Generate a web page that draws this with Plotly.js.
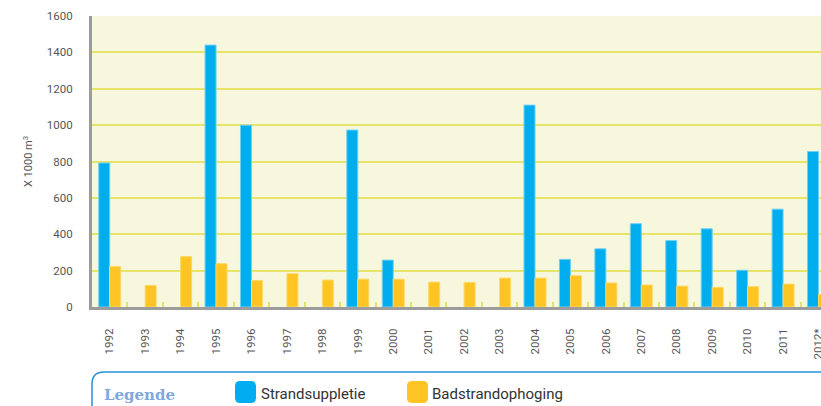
<!DOCTYPE html>
<html>
<head>
<meta charset="utf-8">
<script src="https://cdn.plot.ly/plotly-3.0.1.min.js"></script>
<style>
html,body{margin:0;padding:0;background:#fff;}
#chart{width:821px;height:406px;}
</style>
</head>
<body>
<div id="chart"></div>
<script>
const years = ["1992","1993","1994","1995","1996","1997","1998","1999","2000","2001","2002","2003","2004","2005","2006","2007","2008","2009","2010","2011","2012*"];
const strandsuppletie = [792, null, null, 1440, 1000, null, null, 973, 258, null, null, null, 1110, 262, 320, 458, 365, 430, 202, 538, 855];
const badstrandophoging = [222, 119, 277, 238, 146, 183, 148, 153, 153, 137, 135, 159, 159, 172, 132, 121, 115, 108, 112, 126, 68];
const seriesNames = ["Strandsuppletie", "Badstrandophoging"];
const yTicks = [0, 200, 400, 600, 800, 1000, 1200, 1400, 1600];

const W = 821, H = 406;
const M = {l: 92, r: 0, t: 16, b: 99};
const pw = W - M.l - M.r, ph = H - M.t - M.b;
const px = x => (x - M.l) / pw;
const py = y => (H - M.b - y) / ph;

const blue = "#00aeef", orange = "#fdc424";

const traces = [
  {type: "bar", x: years, y: strandsuppletie, name: seriesNames[0],
   marker: {color: blue, line: {color: "#6fd0f3", width: 1}}, hoverinfo: "x+y"},
  {type: "bar", x: years, y: badstrandophoging, name: seriesNames[1],
   marker: {color: orange, line: {color: "#fed866", width: 1}}, hoverinfo: "x+y"}
];

function rr(x0, y0, x1, y1, r) {
  const P = (x, y) => px(x).toFixed(5) + "," + py(y).toFixed(5);
  return "M" + P(x0 + r, y0) + " L" + P(x1 - r, y0) + " Q" + P(x1, y0) + " " + P(x1, y0 + r) +
    " L" + P(x1, y1 - r) + " Q" + P(x1, y1) + " " + P(x1 - r, y1) +
    " L" + P(x0 + r, y1) + " Q" + P(x0, y1) + " " + P(x0, y1 - r) +
    " L" + P(x0, y0 + r) + " Q" + P(x0, y0) + " " + P(x0 + r, y0) + " Z";
}

const shapes = [
  {type: "path", xref: "paper", yref: "paper", path: rr(92, 372, 860, 440, 12),
   line: {color: "#2b8fd3", width: 1.5}, fillcolor: "rgba(0,0,0,0)"},
  {type: "path", xref: "paper", yref: "paper", path: rr(235, 381, 256, 403, 5),
   line: {width: 0}, fillcolor: blue},
  {type: "path", xref: "paper", yref: "paper", path: rr(407, 381, 428, 403, 5),
   line: {width: 0}, fillcolor: orange}
];

const annotations = [
  {xref: "paper", yref: "paper", x: px(102), y: py(395), xanchor: "left", yanchor: "middle",
   text: "<b>Legende</b>", showarrow: false,
   font: {family: "DejaVu Serif, Liberation Serif, serif", size: 15, color: "#7fa8dc"}},
  {xref: "paper", yref: "paper", x: px(259), y: py(394), xanchor: "left", yanchor: "middle",
   text: seriesNames[0], showarrow: false,
   font: {family: "Roboto, DejaVu Sans, sans-serif", size: 15, color: "#333"}},
  {xref: "paper", yref: "paper", x: px(430), y: py(394), xanchor: "left", yanchor: "middle",
   text: seriesNames[1], showarrow: false,
   font: {family: "Roboto, DejaVu Sans, sans-serif", size: 15, color: "#333"}}
];

const layout = {
  width: W, height: H,
  margin: M,
  paper_bgcolor: "#ffffff",
  plot_bgcolor: "#f6f7dc",
  showlegend: false,
  barmode: "group",
  bargap: 0.38,
  bargroupgap: 0,
  font: {family: "Roboto, DejaVu Sans, sans-serif", color: "#555"},
  xaxis: {
    type: "category",
    range: [-0.5, -0.5 + pw / 35.44],
    tickangle: -90,
    tickson: "boundaries",
    ticks: "inside", ticklen: 5, tickwidth: 2, tickcolor: "#e3e36a",
    ticklabelstandoff: 14,
    tickfont: {size: 11.5, color: "#555"},
    showline: true, linecolor: "#9c9c9c", linewidth: 3,
    showgrid: false, zeroline: false, fixedrange: true
  },
  yaxis: {
    range: [0, 1600],
    tickvals: yTicks,
    ticktext: yTicks.map(String),
    ticks: "outside", ticklen: 14, tickcolor: "rgba(0,0,0,0)",
    tickfont: {size: 11.5, color: "#555"},
    showline: true, linecolor: "#9c9c9c", linewidth: 3,
    showgrid: true, gridcolor: "#e6e56a", gridwidth: 2,
    zeroline: false, fixedrange: true,
    title: {text: "X 1000 m<sup>3</sup>", font: {size: 11, color: "#555"}, standoff: 12}
  },
  shapes: shapes,
  annotations: annotations
};

Plotly.newPlot("chart", traces, layout, {displayModeBar: false, staticPlot: true});
</script>
</body>
</html>
